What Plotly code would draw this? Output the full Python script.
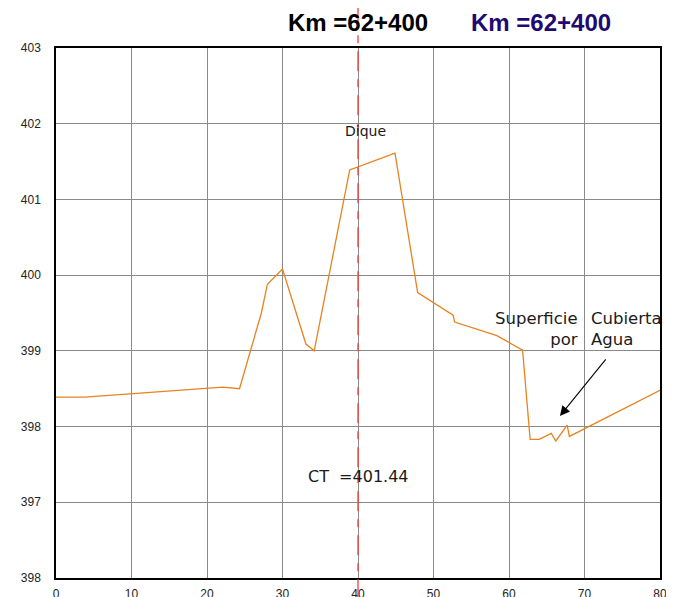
import plotly.graph_objects as go

# Profile data (station in m, elevation in m)
station = [0, 3.8, 22.1, 24.3, 27.2, 28.0, 30.0, 33.1, 34.2, 38.9, 44.9, 47.9,
           52.6, 52.8, 58.4, 61.8, 62.8, 64.0, 65.6, 66.2, 67.7, 68.0, 80.0]
elevation = [398.39, 398.39, 398.52, 398.50, 399.50, 399.88, 400.08, 399.09, 399.00,
             401.39, 401.61, 399.77, 399.47, 399.38, 399.20, 399.01, 397.83, 397.83,
             397.91, 397.81, 398.02, 397.87, 398.48]

x_ticks = [0, 10, 20, 30, 40, 50, 60, 70, 80]
y_ticks = [396, 397, 398, 399, 400, 401, 402, 403]
y_tick_text = ["398", "397", "398", "399", "400", "401", "402", "403"]

axis_station = 40
ct_value = "401.44"
title_km = "Km =62+400"

fig = go.Figure()
fig.add_trace(go.Scatter(
    x=station, y=elevation, mode="lines",
    line=dict(color="#E8831F", width=1.3),
    hoverinfo="skip", showlegend=False,
))

# red dashed centre line
fig.add_shape(type="line", xref="x", yref="paper",
              x0=axis_station, x1=axis_station, y0=-0.04, y1=1.1,
              line=dict(color="#FF3B3B", width=1.3, dash="20px,8px,8px,8px"),
              layer="above")

txt_font = dict(family="DejaVu Sans", size=16.5, color="#1a1a1a")

fig.add_annotation(x=axis_station, y=1.0 + 25 / 530, xref="x", yref="paper",
                   text="<b>" + title_km + "</b>", showarrow=False,
                   font=dict(family="Liberation Sans", size=24, color="#000000"),
                   xanchor="center", yanchor="middle")
fig.add_annotation(x=64.2, y=1.0 + 25 / 530, xref="x", yref="paper",
                   text="<b>" + title_km + "</b>", showarrow=False,
                   font=dict(family="Liberation Sans", size=24, color="#1F0A73"),
                   xanchor="center", yanchor="middle")

fig.add_annotation(x=41.0, y=401.91, xref="x", yref="y", text="Dique",
                   showarrow=False, font=dict(family="DejaVu Sans", size=14, color="#1a1a1a"),
                   xanchor="center", yanchor="middle")
fig.add_annotation(x=40.0, y=397.34, xref="x", yref="y", text="CT  =" + ct_value,
                   showarrow=False, font=dict(family="DejaVu Sans", size=16, color="#1a1a1a"),
                   xanchor="center", yanchor="middle")
fig.add_annotation(x=69.4, y=399.0, xref="x", yref="y", text="Superficie<br>por",
                   showarrow=False, font=txt_font, align="right",
                   xanchor="right", yanchor="bottom")
fig.add_annotation(x=70.6, y=399.0, xref="x", yref="y", text="Cubierta<br>Agua",
                   showarrow=False, font=txt_font, align="left",
                   xanchor="left", yanchor="bottom")
fig.add_annotation(x=66.75, y=398.14, xref="x", yref="y", text="",
                   showarrow=True, ax=47, ay=-58, arrowhead=2, arrowsize=1.8,
                   arrowwidth=1.1, arrowcolor="#000000", standoff=0)

fig.update_xaxes(range=[0, 80], tickvals=x_ticks, showgrid=True,
                 gridcolor="#8a8a8a", gridwidth=1, zeroline=False,
                 showline=True, linecolor="#000000", linewidth=1.5, mirror=True,
                 ticks="", ticklabelstandoff=4, automargin=False,
                 tickfont=dict(family="Liberation Sans", size=12, color="#222222"))
fig.update_yaxes(range=[396, 403], tickvals=y_ticks, ticktext=y_tick_text,
                 showgrid=True, gridcolor="#8a8a8a", gridwidth=1, zeroline=False,
                 showline=True, linecolor="#000000", linewidth=1.5, mirror=True,
                 ticks="", ticklabelstandoff=11, automargin=False,
                 tickfont=dict(family="Liberation Sans", size=12, color="#222222"))

fig.update_layout(width=674, height=597,
                  margin=dict(l=48, r=22, t=40, b=27),
                  plot_bgcolor="white", paper_bgcolor="white",
                  showlegend=False)

fig.write_html("out.html")
